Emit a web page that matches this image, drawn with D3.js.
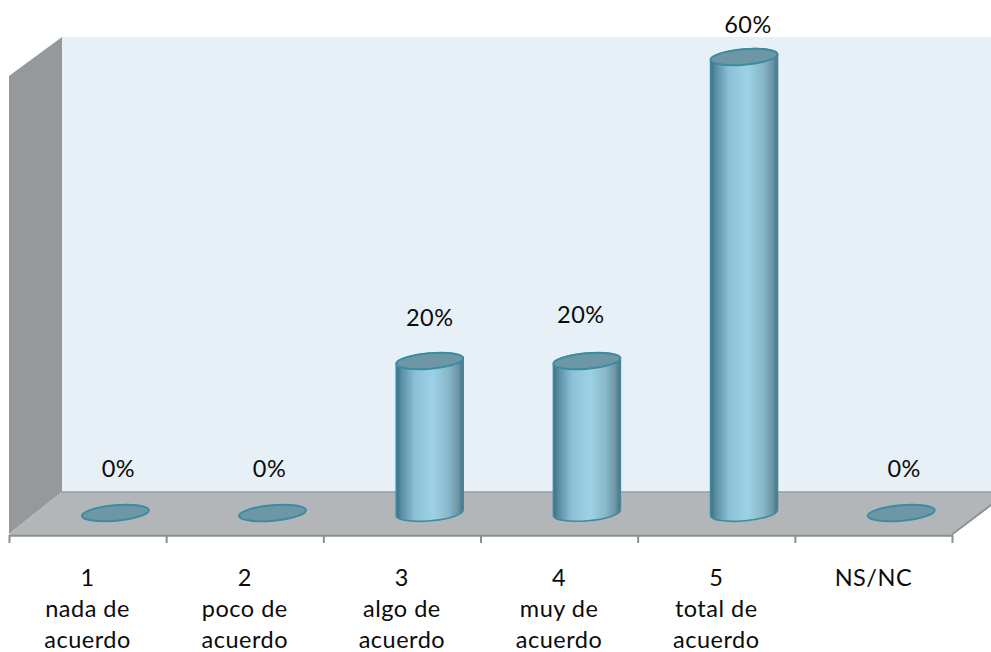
<!DOCTYPE html>
<html><head><meta charset="utf-8">
<script src="https://cdn.jsdelivr.net/npm/d3@7"></script>
<style>html,body{margin:0;padding:0;background:#fff}svg{display:block}text{font-family:Lato,"Open Sans",sans-serif;fill:#0c0c0c;letter-spacing:.5px}</style>
</head><body><div id="c"></div>
<script>
const categories = ["1|nada de|acuerdo","2|poco de|acuerdo","3|algo de|acuerdo","4|muy de|acuerdo","5|total de|acuerdo","NS/NC"];
const values = [0,0,20,20,60,0];
const valueLabels = ["0%","0%","20%","20%","60%","0%"];
const labelNudge = [[3,-36],[-3,-36],[0,-35],[-6,-38],[4,-24],[3,-36]];

const W=991,H=652;
const svg=d3.select("#c").append("svg").attr("width",W).attr("height",H);
const x=d3.scaleBand().domain(d3.range(categories.length)).range([9,952]);
const y=d3.scaleLinear().domain([0,60]).range([513,57]);
const depthX=27.8, rx=33.6, ry=7.8, rotDeg=-5, rot=rotDeg*Math.PI/180;

const defs=svg.append("defs");
const g=defs.append("linearGradient").attr("id","cyl").attr("x1",0).attr("x2",1).attr("y1",0).attr("y2",0);
[[0,"#3f6f82"],[.08,"#5a8ea2"],[.28,"#8cc2d7"],[.55,"#9dd2e6"],[.78,"#88b8c9"],[.92,"#6c97a6"],[1,"#4a7282"]]
 .forEach(s=>g.append("stop").attr("offset",s[0]).attr("stop-color",s[1]));

// walls and floor
svg.append("polygon").attr("points","62,37 991,37 991,493 62,493").attr("fill","#e8f0f7");
svg.append("polygon").attr("points","9,76 62,37 62,492 9,534").attr("fill","#95999b");
svg.append("polygon").attr("points","9,534 62,492 991,492 991,505 952,534").attr("fill","#b2b6b9");
svg.append("line").attr("x1",62).attr("x2",991).attr("y1",492).attr("y2",492).attr("stroke","#9a9d9f").attr("stroke-width",1.5);
svg.append("line").attr("x1",952).attr("y1",534.5).attr("x2",991).attr("y2",505).attr("stroke","#8f9293").attr("stroke-width",2);

// tick axis
const tickScale=d3.scaleLinear().domain([0,categories.length]).range([9,952]);
const ax=svg.append("g").attr("transform","translate(0,535)")
  .call(d3.axisBottom(tickScale).ticks(categories.length).tickSizeInner(8).tickSizeOuter(0).tickFormat(""));
ax.selectAll("line,path").attr("stroke","#8c8f8f").attr("stroke-width",2);
ax.select("path").attr("stroke-width",2.5);

// cylinders
const dx=rx*Math.cos(rot), dy=rx*Math.sin(rot);
const center=i=>x(i)+x.bandwidth()/2+depthX;
const bars=svg.selectAll("g.bar").data(values).join("g").attr("class","bar");
bars.append("path")
  .attr("display",d=>d>0?null:"none")
  .attr("d",(d,i)=>{
    const c=center(i), t=y(d), b=y(0);
    return `M${c-dx},${t-dy}L${c-dx},${b-dy}A${rx},${ry} ${rotDeg} 0 0 ${c+dx},${b+dy}L${c+dx},${t+dy}A${rx},${ry} ${rotDeg} 0 0 ${c-dx},${t-dy}Z`;
  })
  .attr("fill","url(#cyl)").attr("stroke","#3d8ba1").attr("stroke-width",1.6);
bars.append("ellipse")
  .attr("rx",rx).attr("ry",ry)
  .attr("transform",(d,i)=>`translate(${center(i)},${y(d)}) rotate(${rotDeg})`)
  .attr("fill","#6e97a5").attr("stroke","#3d8ba1").attr("stroke-width",2);

// value labels
svg.selectAll("text.val").data(values).join("text").attr("class","val")
  .attr("x",(d,i)=>center(i)+labelNudge[i][0])
  .attr("y",(d,i)=>y(d)+labelNudge[i][1])
  .attr("text-anchor","middle").attr("font-size",23.5)
  .text((d,i)=>valueLabels[i]);

// category labels
const cat=svg.selectAll("text.cat").data(categories).join("text").attr("class","cat")
  .attr("text-anchor","middle").attr("font-size",23.5);
cat.selectAll("tspan").data((d,i)=>d.split("|").map(s=>({s,i}))).join("tspan")
  .attr("x",d=>x(d.i)+x.bandwidth()/2)
  .attr("y",(d,j)=>586+j*31)
  .text(d=>d.s);
</script></body></html>
